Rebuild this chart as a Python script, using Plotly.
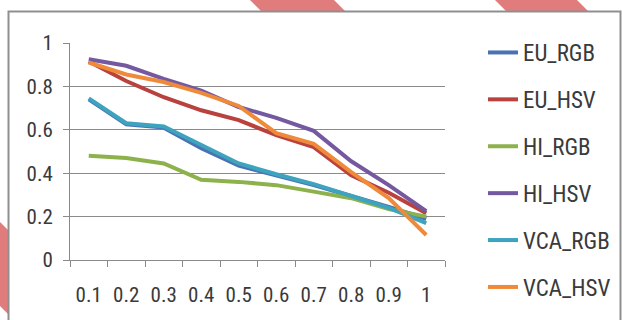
import plotly.graph_objects as go

# Threshold levels along the category axis
thresholds = ["0.1", "0.2", "0.3", "0.4", "0.5", "0.6", "0.7", "0.8", "0.9", "1"]

# Measured score for each method / colour space
eu_rgb = [0.74, 0.625, 0.61, 0.515, 0.435, 0.39, 0.345, 0.295, 0.245, 0.19]
eu_hsv = [0.915, 0.825, 0.75, 0.69, 0.645, 0.575, 0.52, 0.39, 0.31, 0.215]
hi_rgb = [0.48, 0.47, 0.445, 0.37, 0.36, 0.345, 0.315, 0.285, 0.235, 0.2]
hi_hsv = [0.925, 0.895, 0.835, 0.78, 0.705, 0.655, 0.595, 0.455, 0.345, 0.225]
vca_rgb = [0.745, 0.63, 0.615, 0.53, 0.445, 0.395, 0.35, 0.295, 0.24, 0.17]
vca_hsv = [0.91, 0.855, 0.82, 0.77, 0.71, 0.585, 0.535, 0.405, 0.285, 0.115]

series_names = ["EU_RGB", "EU_HSV", "HI_RGB", "HI_HSV", "VCA_RGB", "VCA_HSV"]
series_values = [eu_rgb, eu_hsv, hi_rgb, hi_hsv, vca_rgb, vca_hsv]
series_colors = ["#4A72B2", "#B9413E", "#8DB14B", "#7459A0", "#3DA3BF", "#EE8A3A"]

# Figure geometry (pixels)
W, H = 622, 320
L, R, T, B = 70, 177, 43, 60
PW, PH = W - L - R, H - T - B


def px_x(p):
    return (p - L) / PW


def px_y(p):
    return (H - B - p) / PH


FONT = "Roboto Condensed, Liberation Sans Narrow, Roboto, sans-serif"
GRID = "#8A8A8A"
TEXT = "#3A3A3A"

fig = go.Figure()
for name, vals, col in zip(series_names, series_values, series_colors):
    fig.add_trace(go.Scatter(
        x=thresholds, y=vals, name=name, legendgroup=name,
        mode="lines", line=dict(color=col, width=4),
    ))


def poly(points):
    return "M " + " L ".join(f"{px_x(a)},{px_y(b)}" for a, b in points) + " Z"


stripe = "#E07C7C"
shapes = [
    dict(type="path", xref="paper", yref="paper", layer="below",
         path=poly([(250, 0), (334, 0), (345, 11), (261, 11)]),
         fillcolor=stripe, line=dict(width=0)),
    dict(type="path", xref="paper", yref="paper", layer="below",
         path=poly([(495, 0), (577, 0), (588, 11), (506, 11)]),
         fillcolor=stripe, line=dict(width=0)),
    dict(type="path", xref="paper", yref="paper", layer="below",
         path=poly([(0, 222), (8, 230), (8, 314), (0, 306)]),
         fillcolor=stripe, line=dict(width=0)),
    # chart frame
    dict(type="rect", xref="paper", yref="paper", layer="below",
         x0=px_x(8.5), x1=px_x(620.5), y0=px_y(335), y1=px_y(11.5),
         fillcolor="rgba(0,0,0,0)", line=dict(color="#8F8F8F", width=2)),
]

fig.update_layout(
    width=W, height=H,
    margin=dict(l=L, r=R, t=T, b=B, pad=0, autoexpand=False),
    paper_bgcolor="white", plot_bgcolor="white",
    font=dict(family=FONT, size=21, color=TEXT),
    showlegend=True,
    legend=dict(
        x=px_x(483), xanchor="left", y=px_y(31), yanchor="top",
        bgcolor="rgba(0,0,0,0)", tracegroupgap=14, maxheight=330,
        font=dict(family=FONT, size=23, color=TEXT),
        itemclick=False,
    ),
    shapes=shapes,
    xaxis=dict(
        type="category", range=[-0.5, 9.5], tickangle=0, automargin=False,
        showgrid=False, zeroline=False,
        showline=True, linecolor=GRID, linewidth=1,
        ticks="outside", ticklen=6, tickcolor=GRID, tickson="boundaries",
        ticklabelstandoff=16,
    ),
    yaxis=dict(
        range=[0, 1], dtick=0.2, tick0=0, automargin=False,
        showgrid=True, gridcolor=GRID, gridwidth=1,
        zeroline=False,
        showline=True, linecolor=GRID, linewidth=1,
        ticks="outside", ticklen=6, tickcolor=GRID,
        ticklabelstandoff=6,
    ),
)

fig.write_html("out.html")
